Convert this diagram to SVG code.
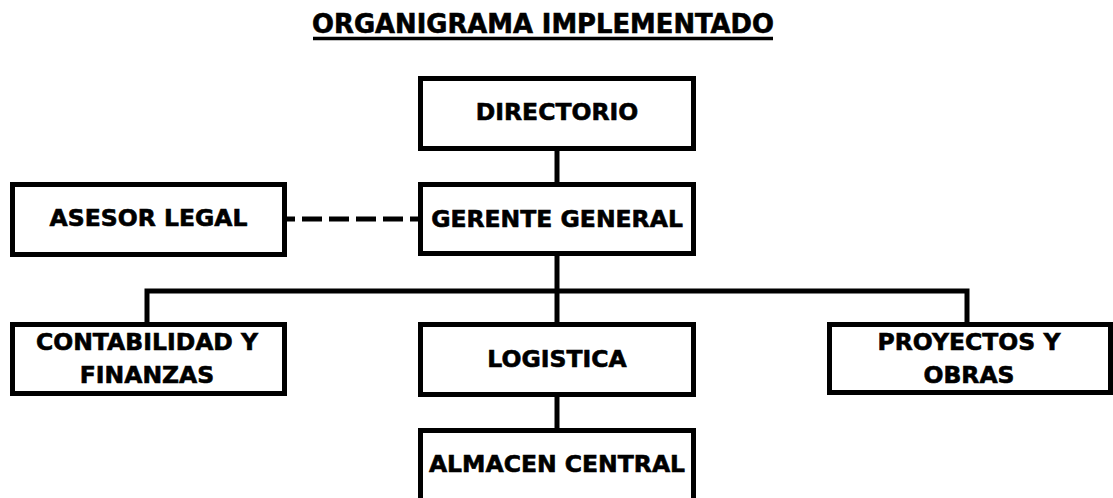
<svg xmlns="http://www.w3.org/2000/svg" width="1113" height="498" viewBox="0 0 1113 498">
<style>
.box{fill:#fff;stroke:#000;stroke-width:5}
.lbl{font-family:"DejaVu Sans",Verdana,sans-serif;font-weight:bold;font-size:23.5px;fill:#000;stroke:#000;stroke-width:0.6;text-anchor:middle}
.ttl{font-family:"DejaVu Sans",Verdana,sans-serif;font-weight:bold;font-size:25.8px;fill:#000;stroke:#000;stroke-width:0.6;text-anchor:middle}
.con{stroke:#000;stroke-width:5;fill:none}
.dash{stroke:#000;stroke-width:5;fill:none;stroke-dasharray:20 7;stroke-dashoffset:12}
</style>
<rect width="1113" height="498" fill="#fff"/>
<g id="title">
<text class="ttl" x="543" y="33">ORGANIGRAMA IMPLEMENTADO</text>
<line x1="313" y1="38.5" x2="773" y2="38.5" stroke="#000" stroke-width="3.5"/>
</g>
<g id="connectors">
<line class="con" x1="557" y1="151" x2="557" y2="182"/>
<line class="con" x1="557" y1="256" x2="557" y2="322"/>
<polyline class="con" points="147,322 147,291 967,291 967,322"/>
<line class="con" x1="557" y1="397" x2="557" y2="428"/>
<line class="dash" x1="287" y1="219" x2="418" y2="219"/>
</g>
<g id="directorio">
<rect class="box" x="420.5" y="78.5" width="273" height="70"/>
<text class="lbl" x="557" y="120">DIRECTORIO</text>
</g>
<g id="gerente-general">
<rect class="box" x="420.5" y="184.5" width="273" height="69"/>
<text class="lbl" x="557" y="226.5">GERENTE GENERAL</text>
</g>
<g id="asesor-legal">
<rect class="box" x="12.5" y="184.5" width="272" height="70"/>
<text class="lbl" x="148.5" y="226">ASESOR LEGAL</text>
</g>
<g id="contabilidad">
<rect class="box" x="12.5" y="324.5" width="272" height="69"/>
<text class="lbl" x="147" y="350">CONTABILIDAD Y</text>
<text class="lbl" x="147" y="383">FINANZAS</text>
</g>
<g id="logistica">
<rect class="box" x="420.5" y="324.5" width="273" height="70"/>
<text class="lbl" x="557" y="366.5">LOGISTICA</text>
</g>
<g id="proyectos">
<rect class="box" x="829.5" y="324.5" width="281" height="68"/>
<text class="lbl" x="969" y="350">PROYECTOS Y</text>
<text class="lbl" x="969" y="383">OBRAS</text>
</g>
<g id="almacen">
<rect class="box" x="420.5" y="430.5" width="273" height="80"/>
<text class="lbl" x="557" y="471.5">ALMACEN CENTRAL</text>
</g>
</svg>
